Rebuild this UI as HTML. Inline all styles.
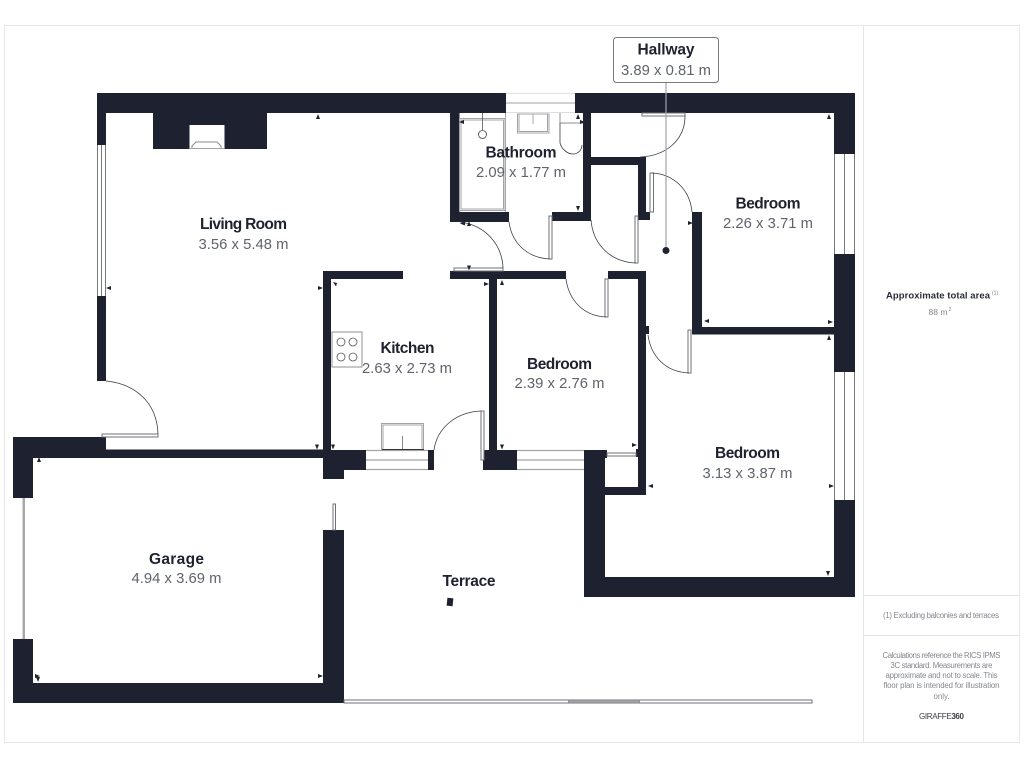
<!DOCTYPE html>
<html><head><meta charset="utf-8"><style>
html,body{margin:0;padding:0;background:#fff}
svg{display:block}
text{font-family:"Liberation Sans",sans-serif;text-anchor:middle}
.n{font-size:15.5px;font-weight:bold;fill:#1e2230}
.d{font-size:14.8px;fill:#5f636d}
.w{fill:#1e2230;stroke:none}
.g{fill:none;stroke:#a4a4a8;stroke-width:1}
.l{fill:none;stroke:#3a3e48;stroke-width:.8}
.p{fill:#fff;stroke:#6f7178;stroke-width:1}
.s{font-size:7.8px;fill:#85878e}
.t{fill:#1e2230}
</style></head><body>
<svg width="1024" height="768" viewBox="0 0 1024 768" xmlns="http://www.w3.org/2000/svg">
<rect width="1024" height="768" fill="#fff"/>
<rect x="4.5" y="25.5" width="1015" height="717" fill="#fff" stroke="#e8e8ec"/>
<path d="M863.5 25V743M864 595.5H1019M864 635.5H1019" stroke="#e4e4e8" fill="none"/>

<!-- windows -->
<path d="M506 93.500H575M506 112.500H575" stroke="#d4d4d8" stroke-width=".8"/>
<path d="M506 103H575" stroke="#b4b4b8" stroke-width="1.200"/>
<path d="M97.500 145V296M101.500 145V296M105.500 145V296" stroke="#77797f" stroke-width="1" fill="none"/>
<path d="M834.500 154V254M844.500 154V254M854.500 154V254M834.500 372V500M844.500 372V500M854.500 372V500" stroke="#77797f" stroke-width="1" fill="none"/>
<path d="M366 450.500H428M366 460H428M366 469.500H428M517 450.500H584M517 460H584M517 469.500H584" stroke="#a4a4a8" stroke-width="1.200" fill="none"/>
<rect x="22.500" y="498" width="2.500" height="141" fill="#a8a8ac"/>

<!-- walls -->
<g class="w">
<rect x="97" y="93" width="409" height="20"/>
<rect x="575" y="93" width="280" height="20"/>
<rect x="97" y="93" width="9" height="52"/>
<rect x="97" y="296" width="9" height="85"/>
<path d="M153 113H267V149H224.500V125H189.500V149H153Z"/>
<rect x="450" y="113" width="9.500" height="109"/>
<rect x="450" y="212" width="59" height="10"/>
<rect x="552" y="212" width="39" height="9"/>
<rect x="583" y="113" width="8" height="108"/>
<rect x="591" y="157" width="55" height="8"/>
<rect x="638" y="157" width="8" height="63"/>
<rect x="638" y="212" width="12" height="8"/>
<rect x="692" y="212" width="10" height="122"/>
<rect x="692" y="327" width="142" height="7.500"/>
<rect x="834" y="93" width="21" height="61"/>
<rect x="834" y="254" width="21" height="118"/>
<rect x="834" y="500" width="21" height="97"/>
<rect x="584" y="577" width="271" height="20"/>
<rect x="584" y="450" width="21" height="147"/>
<rect x="584" y="450" width="23" height="8"/>
<rect x="605" y="487" width="41" height="8"/>
<rect x="638" y="271" width="8" height="224"/>
<rect x="646" y="326" width="3" height="8"/>
<rect x="608" y="271" width="38" height="8"/>
<rect x="450" y="271" width="116" height="8"/>
<rect x="489" y="271" width="8" height="180"/>
<rect x="323" y="271" width="8" height="180"/>
<rect x="323" y="271" width="80" height="8"/>
<rect x="106" y="449.500" width="218" height="8.500"/>
<rect x="13" y="437" width="93" height="21"/>
<rect x="13" y="437" width="20" height="61"/>
<rect x="13" y="639" width="20" height="64"/>
<rect x="13" y="683" width="331" height="20"/>
<rect x="323" y="530" width="21" height="173"/>
<rect x="323" y="450" width="43" height="20"/>
<rect x="323" y="450" width="21" height="29"/>
<rect x="428" y="450" width="6" height="20"/>
<rect x="483" y="450" width="34" height="20"/>
<rect x="636" y="449" width="3" height="8"/>
</g>

<!-- doors -->
<g>
<rect class="p" x="102" y="434" width="56" height="3"/>
<path class="l" d="M106 381C136 384 157 403 158 434"/>
<rect class="p" x="549" y="216" width="3" height="43"/>
<path class="l" d="M509 222C512 244 528 258 550 259"/>
<rect class="p" x="635" y="216" width="3" height="47"/>
<path class="l" d="M591 220C593 245 611 262 636 263"/>
<rect class="p" x="642" y="113" width="43" height="3"/>
<path class="l" d="M685 116C685 140 666 156 640 157"/>
<rect class="p" x="650" y="173" width="3.500" height="39"/>
<path class="l" d="M652 173C674 174 690 190 692 212"/>
<rect class="p" x="454" y="268" width="49" height="3"/>
<path class="l" d="M460 222C484 225 502 243 503 268"/>
<rect class="p" x="605" y="279" width="3" height="38"/>
<path class="l" d="M566 279C569 301 584 316 606 317"/>
<rect class="p" x="481" y="411" width="3" height="49"/>
<path class="l" d="M434 450C437 428 456 412 481 411"/>
<rect class="p" x="688" y="330" width="3" height="43"/>
<path class="l" d="M648 335C651 357 666 372 689 373"/>
<rect class="p" x="607" y="453" width="29" height="3"/>
<rect class="p" x="333" y="504" width="2.500" height="26"/>
<rect class="p" x="344" y="700" width="468" height="3"/>
<rect x="568.500" y="700" width="71" height="3" fill="#a4a4a8" stroke="#777" stroke-width=".6"/>
</g>

<!-- fixtures -->
<path d="M192 148.500V146L196 142H217L221 146V148.500" fill="none" stroke="#8a8a90" stroke-width="1"/>
<path d="M190 148.500H224" stroke="#a4a4a8"/>
<rect class="g" x="459.500" y="118.500" width="45.500" height="92"/>
<rect class="g" x="461" y="120" width="42.500" height="89"/>
<path class="g" d="M505.500 113V212"/>
<path d="M482.500 113V130" stroke="#555" stroke-width=".8"/>
<circle cx="482.500" cy="134.500" r="4" fill="#fff" stroke="#444" stroke-width=".8"/>
<rect class="g" x="517.500" y="114" width="31.500" height="19"/>
<rect class="g" x="519" y="114" width="28.500" height="17.500"/>
<path class="g" d="M533 114V124"/>
<path d="M560 113V123H583" fill="none" stroke="#a4a4a8" stroke-width="1.200"/>
<path class="l" d="M560 123V143C562 150 568 154 573 154C578 154 582 150 582 145"/>
<rect x="332" y="332" width="30" height="35" fill="#fff" stroke="#777" stroke-width=".8"/>
<g fill="none" stroke="#555" stroke-width=".8">
<circle cx="341" cy="342" r="4"/><circle cx="353" cy="342" r="4"/><circle cx="341" cy="357" r="4"/><circle cx="353" cy="357" r="4"/>
</g>
<rect class="g" x="381.500" y="423.500" width="42" height="26.500"/>
<rect class="g" x="383" y="425" width="39" height="25"/>
<path d="M402.500 436V449" stroke="#555" stroke-width=".7"/>
<path d="M382 449.500H424" stroke="#333" stroke-width="1"/>
<rect class="t" x="447" y="598" width="6" height="8" transform="rotate(6 450 602)"/>

<!-- hallway callout -->
<path d="M666 83V250" stroke="#a4a4a8" stroke-width="1.200"/>
<circle cx="666" cy="250.500" r="3.500" fill="#1e2230"/>
<rect x="613.500" y="37.500" width="105" height="45" rx="3" fill="#fff" stroke="#777a82"/>

<!-- ticks -->
<g class="t">
<path d="M316 119h4l-2-5zM576 119h4l-2-5zM576 206h4l-2 5zM467 226h4l-2-5zM467 265.500h4l-2 5zM500 285h4l-2-5zM827 119h4l-2-5zM827 340h4l-2-5zM826 571h4l-2 5zM315 444.500h4l-2 5zM331 444.500h4l-2 5zM500 444.500h4l-2 5zM37 462h4l-2-5zM36 677h4l-2 5z"/>
<path d="M580 120v4l5-2zM688 221v4l5-2zM484 282v4l5-2zM318 286v4l5-2zM632 443v4l5-2zM829 484v4l5-2zM318 674v4l5-2zM35 674v4l5-2zM828 320v4l5-2z"/>
<path d="M465 221.500v4l-5-2zM709 319v4l-5-2zM653 484v4l-5-2zM111 286v4l-5-2zM464 120v4l-5-2z"/>
<path d="M333 282l4 1-1 3.500z"/>
</g>

<!-- labels -->
<text class="n" x="666" y="54.500" textLength="57">Hallway</text>
<text class="d" x="666" y="75" textLength="90">3.89 x 0.81 m</text>
<text class="n" x="243.500" y="229" textLength="87">Living Room</text>
<text class="d" x="243.500" y="249" textLength="90">3.56 x 5.48 m</text>
<text class="n" x="521" y="157.500" textLength="71">Bathroom</text>
<text class="d" x="521" y="177" textLength="90">2.09 x 1.77 m</text>
<text class="n" x="768" y="208.500" textLength="65">Bedroom</text>
<text class="d" x="768" y="228" textLength="90">2.26 x 3.71 m</text>
<text class="n" x="407.500" y="353" textLength="54">Kitchen</text>
<text class="d" x="407" y="373" textLength="90">2.63 x 2.73 m</text>
<text class="n" x="559.500" y="369" textLength="65">Bedroom</text>
<text class="d" x="559.500" y="388" textLength="90">2.39 x 2.76 m</text>
<text class="n" x="747.500" y="458" textLength="65">Bedroom</text>
<text class="d" x="747.500" y="478" textLength="90">3.13 x 3.87 m</text>
<text class="n" x="176.500" y="564" textLength="55">Garage</text>
<text class="d" x="176.500" y="583" textLength="90">4.94 x 3.69 m</text>
<text class="n" x="469" y="586" textLength="53">Terrace</text>

<!-- side panel -->
<text x="938" y="298.500" font-size="9.500" font-weight="bold" fill="#2a2d36" textLength="104">Approximate total area</text>
<text x="995" y="294.500" font-size="5" fill="#777">(1)</text>
<text x="938" y="315" font-size="8.500" fill="#85878e" textLength="19">88 m</text>
<text x="950" y="311" font-size="5" fill="#85878e">2</text>
<text class="s" x="941" y="618" textLength="116">(1) Excluding balconies and terraces</text>
<text class="s" x="941.500" y="658" textLength="118">Calculations reference the RICS IPMS</text>
<text class="s" x="941.500" y="668" textLength="102">3C standard. Measurements are</text>
<text class="s" x="941.500" y="678" textLength="112">approximate and not to scale. This</text>
<text class="s" x="941.500" y="688" textLength="116">floor plan is intended for illustration</text>
<text class="s" x="941.500" y="699" textLength="16">only.</text>
<text x="941.500" y="719" font-size="8" fill="#3a3d46" textLength="45">GIRAFFE<tspan font-weight="bold">360</tspan></text>
</svg>
</body></html>
